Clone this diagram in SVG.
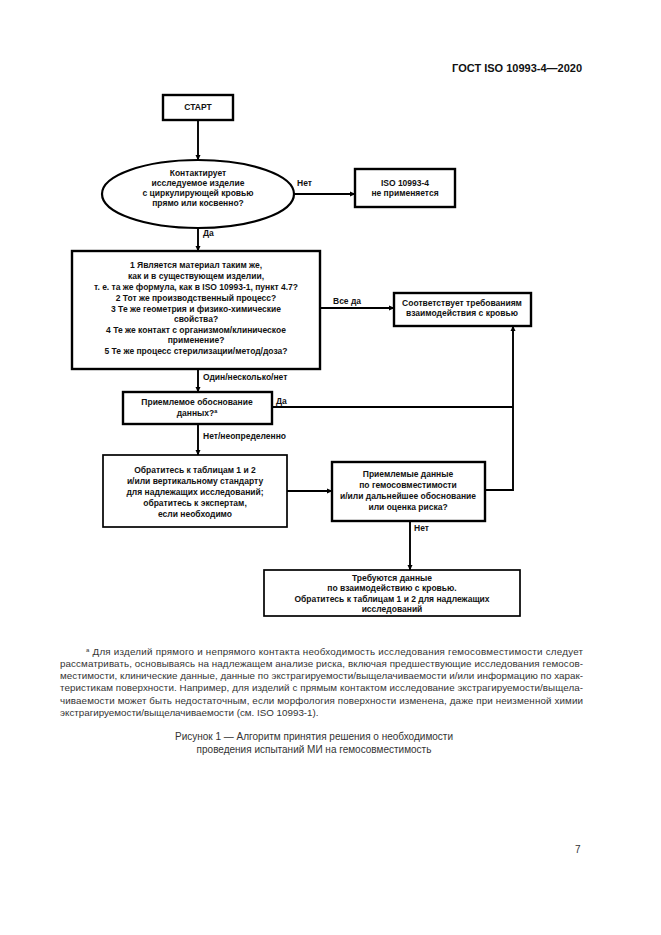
<svg xmlns="http://www.w3.org/2000/svg" width="661" height="935" viewBox="0 0 661 935">
<defs>
<marker id="ah" markerWidth="6" markerHeight="6" refX="5" refY="3" orient="auto" markerUnits="userSpaceOnUse">
<path d="M0,0.5 L5.5,3 L0,5.5 Z" fill="#000"/>
</marker>
<style>
.bx{fill:#fff;stroke:#000;stroke-width:2.4}
.bt{fill:#fff;stroke:#000;stroke-width:1.7}
.t{font-family:"Liberation Sans",Arial,sans-serif;font-size:8.5px;font-weight:bold;fill:#111;text-anchor:middle}
.lb{font-family:"Liberation Sans",Arial,sans-serif;font-size:8.5px;font-weight:bold;fill:#111}
.c{fill:none;stroke:#000;stroke-width:1.9}
.a{marker-end:url(#ah)}
.fn{font-family:"Liberation Sans",Arial,sans-serif;font-size:9.8px;fill:#333}
.cap{font-family:"Liberation Sans",Arial,sans-serif;font-size:10px;fill:#333;text-anchor:middle}
.hd{font-family:"Liberation Sans",Arial,sans-serif;font-size:11px;font-weight:bold;fill:#111;text-anchor:end}
</style>
</defs>
<rect width="661" height="935" fill="#fff"/>
<text class="hd" x="582" y="72">ГОСТ ISO 10993-4—2020</text>

<g id="connectors">
<line class="c a" x1="198" y1="120" x2="198" y2="160"/>
<line class="c a" x1="294" y1="194" x2="355" y2="194"/>
<line class="c a" x1="198" y1="228" x2="198" y2="251"/>
<line class="c a" x1="320" y1="308" x2="394" y2="308"/>
<line class="c a" x1="198" y1="369" x2="198" y2="392"/>
<line class="c a" x1="198" y1="424" x2="198" y2="455"/>
<line class="c a" x1="287" y1="491" x2="332" y2="491"/>
<polyline class="c a" points="485,490 513,490 513,326"/>
<line class="c" x1="272" y1="407" x2="513" y2="407"/>
<line class="c a" x1="410" y1="521" x2="410" y2="570"/>
<text class="lb" x="297" y="186">Нет</text>
<text class="lb" x="203" y="236">Да</text>
<text class="lb" x="333" y="304">Все да</text>
<text class="lb" x="203" y="380">Один/несколько/нет</text>
<text class="lb" x="276" y="404">Да</text>
<text class="lb" x="203" y="439">Нет/неопределенно</text>
<text class="lb" x="414" y="531">Нет</text>
</g>

<g id="start">
<rect class="bx" x="163" y="95" width="70" height="25"/>
<text class="t" x="198" y="110">СТАРТ</text>
</g>

<g id="q-contact">
<ellipse cx="198" cy="194" rx="96" ry="34" fill="#fff" stroke="#000" stroke-width="2.2"/>
<text class="t" x="198" y="176">Контактирует</text>
<text class="t" x="198" y="186">исследуемое изделие</text>
<text class="t" x="198" y="196">с циркулирующей кровью</text>
<text class="t" x="198" y="206">прямо или косвенно?</text>
</g>

<g id="not-applicable">
<rect class="bx" x="355" y="169" width="100" height="38"/>
<text class="t" x="405" y="186">ISO 10993-4</text>
<text class="t" x="405" y="196">не применяется</text>
</g>

<g id="q-same">
<rect class="bx" x="72" y="251" width="248" height="118"/>
<text class="t" x="196" y="268">1 Является материал таким же,</text>
<text class="t" x="196" y="279">как и в существующем изделии,</text>
<text class="t" x="196" y="290">т. е. та же формула, как в ISO 10993-1, пункт 4.7?</text>
<text class="t" x="196" y="301">2 Тот же производственный процесс?</text>
<text class="t" x="196" y="312">3 Те же геометрия и физико-химические</text>
<text class="t" x="196" y="322">свойства?</text>
<text class="t" x="196" y="333">4 Те же контакт с организмом/клиническое</text>
<text class="t" x="196" y="343">применение?</text>
<text class="t" x="196" y="354">5 Те же процесс стерилизации/метод/доза?</text>
</g>

<g id="ok">
<rect class="bx" x="394" y="293" width="137" height="33"/>
<text class="t" x="462" y="306">Соответствует требованиям</text>
<text class="t" x="462" y="316">взаимодействия с кровью</text>
</g>

<g id="q-justify">
<rect class="bx" x="123" y="392" width="149" height="32"/>
<text class="t" x="197" y="405">Приемлемое обоснование</text>
<text class="t" x="197" y="416">данных?<tspan font-size="5.5" dy="-3">а</tspan></text>
</g>

<g id="consult">
<rect class="bt" x="103" y="455" width="184" height="72"/>
<text class="t" x="195" y="473">Обратитесь к таблицам 1 и 2</text>
<text class="t" x="195" y="484">и/или вертикальному стандарту</text>
<text class="t" x="195" y="495">для надлежащих исследований;</text>
<text class="t" x="195" y="506">обратитесь к экспертам,</text>
<text class="t" x="195" y="517">если необходимо</text>
</g>

<g id="q-data">
<rect class="bx" x="332" y="462" width="153" height="59"/>
<text class="t" x="408" y="477">Приемлемые данные</text>
<text class="t" x="408" y="488">по гемосовместимости</text>
<text class="t" x="408" y="499">и/или дальнейшее обоснование</text>
<text class="t" x="408" y="510">или оценка риска?</text>
</g>

<g id="required">
<rect class="bt" x="264" y="570" width="256" height="46"/>
<text class="t" x="392" y="581">Требуются данные</text>
<text class="t" x="392" y="591">по взаимодействию с кровью.</text>
<text class="t" x="392" y="602">Обратитесь к таблицам 1 и 2 для надлежащих</text>
<text class="t" x="392" y="612">исследований</text>
</g>

<g id="footnote">
<text class="fn" x="86" y="655" textLength="497" lengthAdjust="spacing"><tspan font-size="6" dy="-3">а</tspan><tspan dy="3"> Для изделий прямого и непрямого контакта необходимость исследования гемосовместимости следует</tspan></text>
<text class="fn" x="60" y="667" textLength="523" lengthAdjust="spacing">рассматривать, основываясь на надлежащем анализе риска, включая предшествующие исследования гемосов-</text>
<text class="fn" x="60" y="679" textLength="523" lengthAdjust="spacing">местимости, клинические данные, данные по экстрагируемости/выщелачиваемости и/или информацию по харак-</text>
<text class="fn" x="60" y="691" textLength="523" lengthAdjust="spacing">теристикам поверхности. Например, для изделий с прямым контактом исследование экстрагируемости/выщела-</text>
<text class="fn" x="60" y="704" textLength="523" lengthAdjust="spacing">чиваемости может быть недостаточным, если морфология поверхности изменена, даже при неизменной химии</text>
<text class="fn" x="60" y="716">экстрагируемости/выщелачиваемости (см. ISO 10993-1).</text>
</g>

<g id="caption">
<text class="cap" x="314" y="740">Рисунок 1 — Алгоритм принятия решения о необходимости</text>
<text class="cap" x="314" y="753">проведения испытаний МИ на гемосовместимость</text>
</g>

<text class="fn" x="575" y="853" style="font-size:10px">7</text>
</svg>
